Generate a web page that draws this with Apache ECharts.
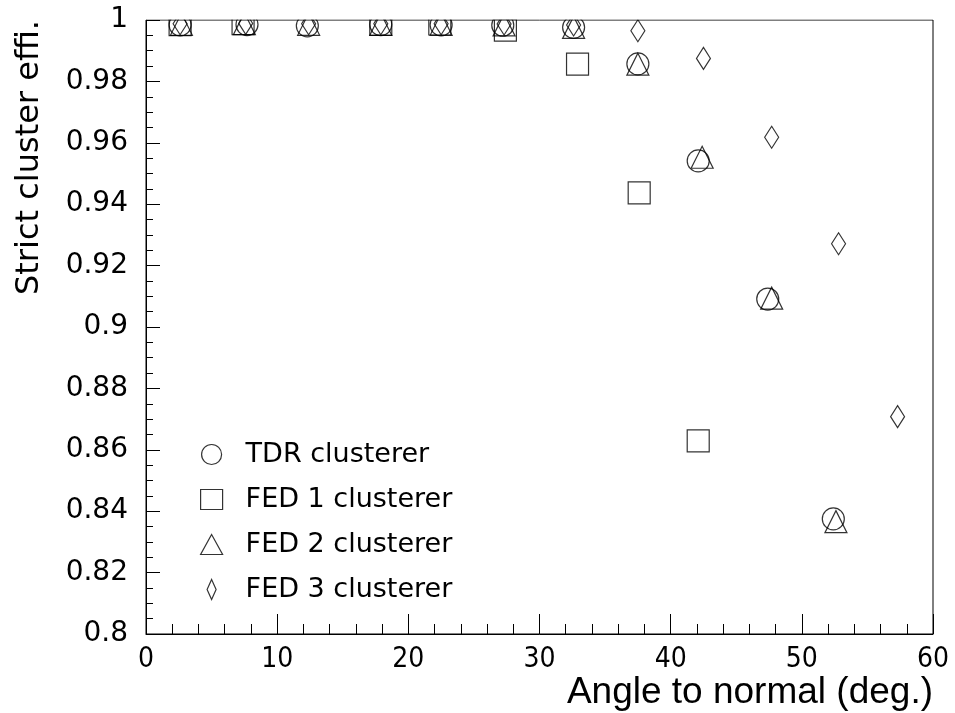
<!DOCTYPE html>
<html>
<head>
<meta charset="utf-8">
<script src="https://cdn.jsdelivr.net/npm/echarts@6/dist/echarts.min.js"></script>
<style>
  html, body { margin: 0; padding: 0; background: #fff; }
  #chart { width: 955px; height: 713px; }
</style>
</head>
<body>
<div id="chart"></div>
<script>
// Strict cluster efficiency vs. track angle for four clustering algorithms
const seriesNames = ['TDR clusterer', 'FED 1 clusterer', 'FED 2 clusterer', 'FED 3 clusterer'];

const tdrAngle = [2.6, 7.7, 12.3, 17.9, 22.5, 27.2, 32.6, 37.5, 42.1, 47.4, 52.4];
const tdrEff   = [0.9984, 0.9985, 0.9981, 0.9985, 0.9984, 0.9983, 0.9976, 0.9857, 0.9541, 0.9091, 0.8375];

const fed1Angle = [2.6, 7.4, 17.9, 22.4, 27.4, 32.9, 37.6, 42.1];
const fed1Eff   = [0.9985, 0.9988, 0.9986, 0.9987, 0.9967, 0.9856, 0.9437, 0.8629];

const fed2Angle = [2.7, 7.5, 12.4, 17.9, 22.5, 27.3, 32.6, 37.5, 42.4, 47.7, 52.6];
const fed2Eff   = [0.9986, 0.9988, 0.9986, 0.9986, 0.9986, 0.9984, 0.9976, 0.9856, 0.9553, 0.9094, 0.8366];

const fed3Angle = [2.6, 7.6, 12.4, 17.9, 22.5, 27.3, 32.6, 37.5, 42.5, 47.7, 52.8, 57.3];
const fed3Eff   = [0.9988, 0.9989, 0.9988, 0.9988, 0.9988, 0.9987, 0.9984, 0.9965, 0.9875, 0.9618, 0.9271, 0.8708];

const xTitle = 'Angle to normal (deg.)';
const yTitle = 'Strict cluster effi.';

function pairs(xs, ys) { return xs.map((x, i) => [x, ys[i]]); }

const hollow = { color: 'rgba(0,0,0,0)', borderColor: '#000', borderWidth: 1.2 };

const chart = echarts.init(document.getElementById('chart'), null, { renderer: 'canvas' });

chart.setOption({
  animation: false,
  backgroundColor: '#fff',
  grid: {
    left: 146, top: 20, right: 22, bottom: 79,
    show: true, borderColor: '#000', borderWidth: 1, backgroundColor: 'rgba(0,0,0,0)'
  },
  xAxis: {
    type: 'value', min: 0, max: 60, interval: 10,
    name: xTitle, nameLocation: 'end', nameGap: 0,
    nameTextStyle: {
      fontFamily: 'Liberation Sans', fontSize: 37, color: '#000',
      align: 'right', verticalAlign: 'top', padding: [40, 0, 0, 0]
    },
    axisLine: { lineStyle: { color: '#000', width: 1 } },
    axisTick: { inside: true, length: 20, lineStyle: { color: '#000', width: 1 } },
    minorTick: { show: true, splitNumber: 5, length: 10, lineStyle: { color: '#000', width: 1 } },
    splitLine: { show: false },
    axisLabel: { margin: 12, color: '#000', fontFamily: 'DejaVu Sans Condensed', fontSize: 28 }
  },
  yAxis: {
    type: 'value', min: 0.8, max: 1, interval: 0.02,
    name: yTitle, nameLocation: 'end', nameGap: 0, nameRotate: 90,
    nameTextStyle: {
      fontFamily: 'DejaVu Sans', fontSize: 32, color: '#000',
      align: 'right', verticalAlign: 'bottom', padding: [0, 0, 100, 0]
    },
    axisLine: { lineStyle: { color: '#000', width: 1 } },
    axisTick: { inside: true, length: 14, lineStyle: { color: '#000', width: 1 } },
    minorTick: { show: true, splitNumber: 4, length: 7, lineStyle: { color: '#000', width: 1 } },
    splitLine: { show: false },
    axisLabel: { margin: 18, color: '#000', fontFamily: 'DejaVu Sans', fontSize: 28 }
  },
  legend: {
    orient: 'vertical', left: 195, top: 436,
    itemWidth: 22, itemHeight: 20, itemGap: 18,
    selectedMode: false,
    itemStyle: { color: 'rgba(0,0,0,0)', borderColor: '#000', borderWidth: 1.2 },
    textStyle: { color: '#000', fontFamily: 'DejaVu Sans', fontSize: 27, lineHeight: 20, padding: [0, 0, 0, 18] },
    data: [
      { name: seriesNames[0], icon: 'circle' },
      { name: seriesNames[1], icon: 'rect' },
      { name: seriesNames[2], icon: 'triangle' },
      { name: seriesNames[3], icon: 'path://M4.5,0L9,10L4.5,20L0,10Z' }
    ]
  },
  // white band above the frame so markers near 1 are cut at the top edge
  graphic: [{
    type: 'rect', z: 100, silent: true,
    shape: { x: 140, y: 0, width: 815, height: 19.5 },
    style: { fill: '#fff' }
  }],
  series: [
    { name: seriesNames[0], type: 'scatter', symbol: 'circle', symbolSize: 22,
      itemStyle: hollow, data: pairs(tdrAngle, tdrEff) },
    { name: seriesNames[1], type: 'scatter', symbol: 'rect', symbolSize: 22,
      itemStyle: hollow, data: pairs(fed1Angle, fed1Eff) },
    { name: seriesNames[2], type: 'scatter', symbol: 'triangle', symbolSize: 22,
      itemStyle: hollow, data: pairs(fed2Angle, fed2Eff) },
    { name: seriesNames[3], type: 'scatter', symbol: 'diamond', symbolSize: [14, 22],
      symbolKeepAspect: true,
      itemStyle: hollow, data: pairs(fed3Angle, fed3Eff) }
  ]
});
</script>
</body>
</html>
